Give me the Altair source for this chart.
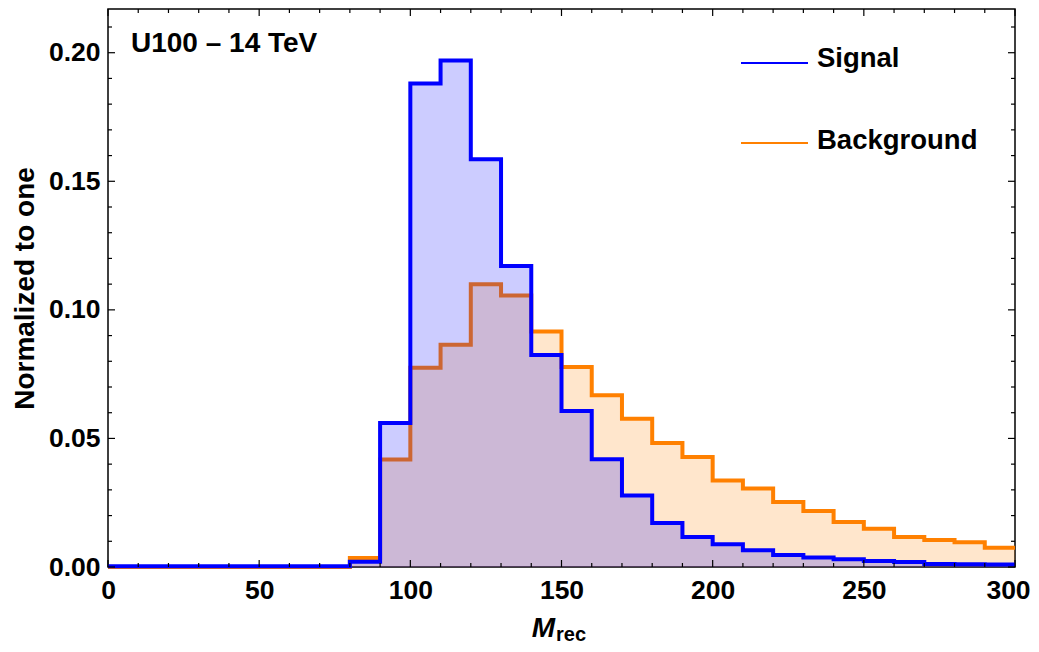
import altair as alt
import pandas as pd

# ---- data ----
bin_edges = [0, 10, 20, 30, 40, 50, 60, 70, 80, 90, 100, 110, 120, 130, 140, 150,
             160, 170, 180, 190, 200, 210, 220, 230, 240, 250, 260, 270, 280, 290, 300]
signal = [0.0003, 0.0003, 0.0003, 0.0003, 0.0003, 0.0003, 0.0003, 0.0003,
          0.002, 0.056, 0.188, 0.197, 0.1586, 0.1171, 0.0824, 0.0607,
          0.0419, 0.0278, 0.0171, 0.0117, 0.0088, 0.0065, 0.0047, 0.0037,
          0.0030, 0.0023, 0.0019, 0.0012, 0.0011, 0.0010]
background = [0.0, 0.0, 0.0, 0.0, 0.0, 0.0, 0.0, 0.0,
              0.0035, 0.0418, 0.0775, 0.0864, 0.110, 0.1056, 0.0916, 0.0778,
              0.0668, 0.0577, 0.0482, 0.0428, 0.0336, 0.0305, 0.0253, 0.0218,
              0.0175, 0.0149, 0.0117, 0.0105, 0.0096, 0.0075]

x_major = [0, 50, 100, 150, 200, 250, 300]
x_minor = [10, 20, 30, 40, 60, 70, 80, 90, 110, 120, 130, 140, 160, 170, 180, 190,
           210, 220, 230, 240, 260, 270, 280, 290]
y_major = [0.0, 0.05, 0.10, 0.15, 0.20]
y_minor = [0.01, 0.02, 0.03, 0.04, 0.06, 0.07, 0.08, 0.09, 0.11, 0.12, 0.13, 0.14,
           0.16, 0.17, 0.18, 0.19, 0.21]

FONT = "Liberation Sans"
W, H = 907, 558
BLUE = "#0000FF"
ORANGE = "#FF8000"


def step_table(values):
    vals = list(values) + [values[-1]]
    return pd.DataFrame({"x": bin_edges, "value": vals})


df_sig = step_table(signal)
df_bg = step_table(background)

xscale = alt.Scale(domain=[0, 300], nice=False, zero=False)
yscale = alt.Scale(domain=[0, 0.217], nice=False, zero=True)

x_axis = alt.Axis(values=x_major, title=None, ticks=False, domain=False,
                  grid=False, labelFontSize=26.5, labelFontWeight="bold",
                  labelFont=FONT, labelColor="black", labelFlush=False,
                  labelBaseline="alphabetic", labelPadding=31,
                  labelOffset={"condition": {"test": "datum.value === 300", "value": -7},
                               "value": 0})
y_axis = alt.Axis(values=y_major, format=".2f", ticks=False, domain=False,
                  grid=False, labelFontSize=26.5, labelFontWeight="bold",
                  labelFont=FONT, labelColor="black", labelPadding=8,
                  title="Normalized to one", titleFontSize=28,
                  titleFontWeight="bold", titleFont=FONT, titleColor="black",
                  titleAngle=270, titleX=-75, titleY=H / 2,
                  titleAlign="center", titleBaseline="alphabetic")


def X(field):
    return alt.X(field, scale=xscale, axis=x_axis)


def Y(field):
    return alt.Y(field, scale=yscale, axis=y_axis)


bg_area = alt.Chart(df_bg).mark_area(interpolate="step-after", color=ORANGE,
                                     fillOpacity=0.2).encode(x=X("x:Q"), y=Y("value:Q"))
bg_line = alt.Chart(df_bg).mark_line(interpolate="step-after", color=ORANGE,
                                     strokeWidth=4, strokeJoin="miter",
                                     strokeCap="butt").encode(x=X("x:Q"), y=Y("value:Q"))
sig_area = alt.Chart(df_sig).mark_area(interpolate="step-after", color=BLUE,
                                       fillOpacity=0.2).encode(x=X("x:Q"), y=Y("value:Q"))
sig_line = alt.Chart(df_sig).mark_line(interpolate="step-after", color=BLUE,
                                       strokeWidth=4, strokeJoin="miter",
                                       strokeCap="butt").encode(x=X("x:Q"), y=Y("value:Q"))


def xticks(vals, length, top):
    d = pd.DataFrame({"x": vals})
    if top:
        y0, y1 = 0, length
    else:
        y0, y1 = H, H - length
    return alt.Chart(d).mark_rule(color="black", strokeWidth=1.2).encode(
        x=X("x:Q"), y=alt.value(y0), y2=alt.value(y1))


def yticks(vals, length, right):
    d = pd.DataFrame({"value": vals})
    if right:
        x0, x1 = W, W - length
    else:
        x0, x1 = 0, length
    return alt.Chart(d).mark_rule(color="black", strokeWidth=1.2).encode(
        y=Y("value:Q"), x=alt.value(x0), x2=alt.value(x1))


ticks = [xticks(x_major, 7, False), xticks(x_minor, 4, False),
         xticks(x_major, 7, True), xticks(x_minor, 4, True),
         yticks(y_major, 7, False), yticks(y_minor, 4, False),
         yticks(y_major, 7, True), yticks(y_minor, 4, True)]

one = pd.DataFrame({"k": [0]})


def label(text, x, y, size=28, style="normal", align="left"):
    return alt.Chart(one).mark_text(text=text, font=FONT, fontSize=size,
                                    fontWeight="bold", fontStyle=style,
                                    color="black", align=align,
                                    baseline="alphabetic").encode(
        x=alt.value(x), y=alt.value(y))


legend_sig = alt.Chart(one).mark_rule(color=BLUE, strokeWidth=2).encode(
    x=alt.value(633), x2=alt.value(700), y=alt.value(54))
legend_bg = alt.Chart(one).mark_rule(color=ORANGE, strokeWidth=2).encode(
    x=alt.value(633), x2=alt.value(700), y=alt.value(134))

texts = [
    label("U100 \u2013 14 TeV", 23, 43),
    label("Signal", 709, 58, size=27.5),
    label("Background", 709, 140, size=27.5),
    label("M", 447, 628, style="italic", align="right"),
    label("rec", 448, 632, size=20),
]

chart = alt.layer(bg_area, bg_line, sig_area, sig_line, *ticks,
                  legend_sig, legend_bg, *texts).properties(
    width=W, height=H,
    autosize=alt.AutoSizeParams(type="none"),
    padding={"left": 100, "top": 1, "right": 16, "bottom": 80},
    background="white",
).configure_view(stroke="black", strokeWidth=1.5)

chart.save("out.html", embed_options={"renderer": "svg", "actions": False})
